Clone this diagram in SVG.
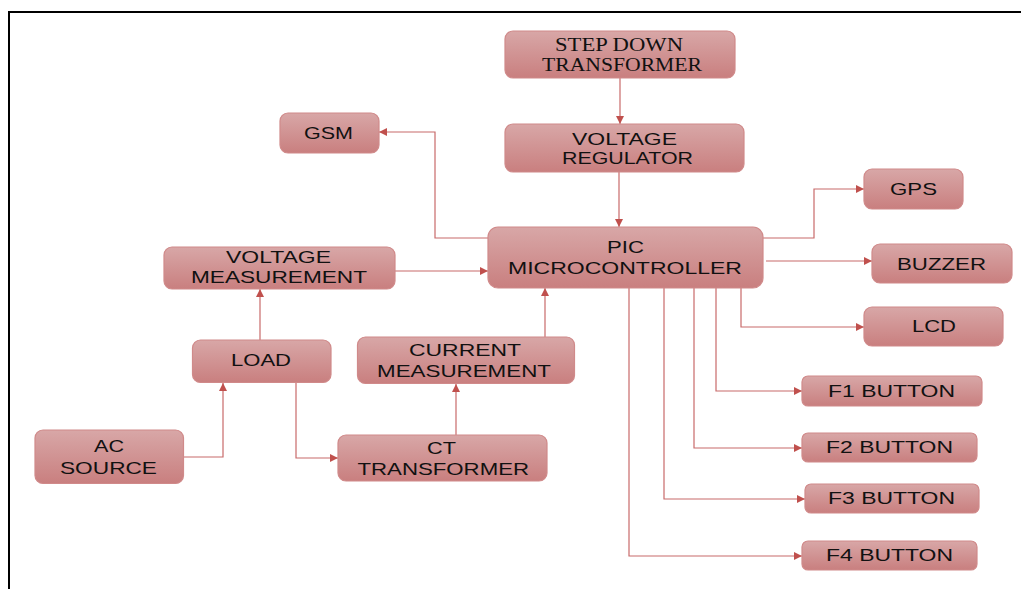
<svg xmlns="http://www.w3.org/2000/svg" width="1021" height="589" viewBox="0 0 1021 589">
<defs>
<linearGradient id="g" x1="0" y1="0" x2="0" y2="1">
<stop offset="0" stop-color="#d8a7a7"/>
<stop offset="1" stop-color="#c97f7f"/>
</linearGradient>
<marker id="ah" viewBox="0 0 10 10" refX="10" refY="5" markerWidth="9" markerHeight="8" markerUnits="userSpaceOnUse" orient="auto">
<path d="M0,0 L10,5 L0,10 Z" fill="#c0504d"/>
</marker>
<style>
.box{fill:url(#g);stroke:#d08a8a;stroke-width:1.2}
.t{font-family:"Liberation Sans",Arial,sans-serif;font-size:17px;fill:#111}
.s{font-family:"Liberation Serif","Times New Roman",serif;font-size:18px;fill:#111}
.c{fill:none;stroke:#c86a6a;stroke-width:1.2;marker-end:url(#ah)}
</style>
</defs>
<rect width="1021" height="589" fill="#fff"/>
<path d="M9,589 L9,12 L1021,12" fill="none" stroke="#000" stroke-width="2"/>
<g id="connectors">
<path class="c" d="M620,78 L620,124"/>
<path class="c" d="M619,172 L619,227"/>
<path class="c" d="M488,238 L435,238 L435,132 L379,132"/>
<path class="c" d="M395,271 L488,271"/>
<path class="c" d="M545,337 L545,288"/>
<path class="c" d="M260,340 L260,289"/>
<path class="c" d="M184,457 L223,457 L223,383"/>
<path class="c" d="M296,383 L296,458 L338,458"/>
<path class="c" d="M456,435 L456,384"/>
<path class="c" d="M763,238 L814,238 L814,189 L864,189"/>
<path class="c" d="M766,261 L872,261"/>
<path class="c" d="M741,288 L741,327 L864,327"/>
<path class="c" d="M716,288 L716,391 L802,391"/>
<path class="c" d="M694,288 L694,448 L802,448"/>
<path class="c" d="M664,288 L664,499 L805,499"/>
<path class="c" d="M629,288 L629,556 L802,556"/>
</g>
<g id="stepdown">
<rect class="box" x="505" y="31" width="230" height="47" rx="8"/>
<text class="s" x="555" y="51" textLength="128" lengthAdjust="spacingAndGlyphs">STEP DOWN</text>
<text class="s" x="542" y="71" textLength="160" lengthAdjust="spacingAndGlyphs">TRANSFORMER</text>
</g>
<g id="regulator">
<rect class="box" x="505" y="124" width="239" height="48" rx="8"/>
<text class="t" x="572" y="145" textLength="105" lengthAdjust="spacingAndGlyphs">VOLTAGE</text>
<text class="t" x="562" y="164" textLength="131" lengthAdjust="spacingAndGlyphs">REGULATOR</text>
</g>
<g id="gsm">
<rect class="box" x="280" y="113" width="99" height="40" rx="8"/>
<text class="t" x="304" y="139" textLength="49" lengthAdjust="spacingAndGlyphs">GSM</text>
</g>
<g id="pic">
<rect class="box" x="488" y="227" width="275" height="61" rx="10"/>
<text class="t" x="607" y="253" textLength="37" lengthAdjust="spacingAndGlyphs">PIC</text>
<text class="t" x="508" y="274" textLength="234" lengthAdjust="spacingAndGlyphs">MICROCONTROLLER</text>
</g>
<g id="voltmeas">
<rect class="box" x="164" y="247" width="231" height="42" rx="8"/>
<text class="t" x="226" y="263" textLength="105" lengthAdjust="spacingAndGlyphs">VOLTAGE</text>
<text class="t" x="191" y="283" textLength="176" lengthAdjust="spacingAndGlyphs">MEASUREMENT</text>
</g>
<g id="load">
<rect class="box" x="192.5" y="340" width="138.5" height="42.5" rx="8"/>
<text class="t" x="231" y="366" textLength="60" lengthAdjust="spacingAndGlyphs">LOAD</text>
</g>
<g id="curmeas">
<rect class="box" x="357.5" y="337" width="217" height="46.5" rx="8"/>
<text class="t" x="409" y="356" textLength="112" lengthAdjust="spacingAndGlyphs">CURRENT</text>
<text class="t" x="377" y="377" textLength="174" lengthAdjust="spacingAndGlyphs">MEASUREMENT</text>
</g>
<g id="acsource">
<rect class="box" x="35" y="430" width="148.5" height="53.5" rx="8"/>
<text class="t" x="94" y="452" textLength="30" lengthAdjust="spacingAndGlyphs">AC</text>
<text class="t" x="60" y="474" textLength="97" lengthAdjust="spacingAndGlyphs">SOURCE</text>
</g>
<g id="ct">
<rect class="box" x="338" y="435" width="209" height="46" rx="8"/>
<text class="t" x="427" y="454" textLength="29" lengthAdjust="spacingAndGlyphs">CT</text>
<text class="t" x="357.5" y="475" textLength="171.5" lengthAdjust="spacingAndGlyphs">TRANSFORMER</text>
</g>
<g id="gps">
<rect class="box" x="864" y="169" width="99" height="40" rx="8"/>
<text class="t" x="890" y="195" textLength="47" lengthAdjust="spacingAndGlyphs">GPS</text>
</g>
<g id="buzzer">
<rect class="box" x="872" y="244" width="140" height="39" rx="8"/>
<text class="t" x="897" y="270" textLength="89" lengthAdjust="spacingAndGlyphs">BUZZER</text>
</g>
<g id="lcd">
<rect class="box" x="864" y="307" width="139" height="39" rx="8"/>
<text class="t" x="912" y="332" textLength="44" lengthAdjust="spacingAndGlyphs">LCD</text>
</g>
<g id="f1">
<rect class="box" x="802" y="376" width="180" height="30" rx="6"/>
<text class="t" x="828" y="397" textLength="127" lengthAdjust="spacingAndGlyphs">F1 BUTTON</text>
</g>
<g id="f2">
<rect class="box" x="802" y="433" width="175" height="29" rx="6"/>
<text class="t" x="826" y="453" textLength="127" lengthAdjust="spacingAndGlyphs">F2 BUTTON</text>
</g>
<g id="f3">
<rect class="box" x="805" y="484" width="174" height="29" rx="6"/>
<text class="t" x="828" y="504" textLength="127" lengthAdjust="spacingAndGlyphs">F3 BUTTON</text>
</g>
<g id="f4">
<rect class="box" x="802" y="541" width="175" height="29" rx="6"/>
<text class="t" x="826" y="561" textLength="127" lengthAdjust="spacingAndGlyphs">F4 BUTTON</text>
</g>
</svg>
